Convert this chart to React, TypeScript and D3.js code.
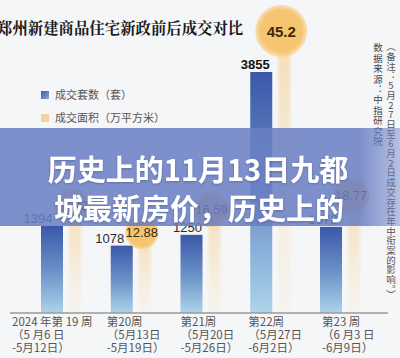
import React from 'react';
import * as d3 from 'd3';

const weeks = ['第19周', '第20周', '第21周', '第22周', '第23周'];
const deals = [1394, 1078, 1250, 3855, 1378];
const areas = [17.22, 12.88, 16.59, 45.2, 18.77];
const weekLine1 = ['2024 年第 19 周', '第20周', '第21周', '第22周', '第23 周'];
const weekLine2 = ['（5 月6 日', '（5月13日', '（5月20日', '（5月27日', '（6 月3 日'];
const weekLine3 = ['-5月12日）', '-5月19日）', '-5月26日）', '-6月2日）', '-6月9日）'];
const legendLabels = ['成交套数（套）', '成交面积（万平方米）'];
const titleText = '郑州新建商品住宅新政前后成交对比';
const bannerLines = ['历史上的11月13日九都', '城最新房价，历史上的'];
const noteText = '（备注：5月27日至6月2日成交存在年中衔案的影响。）';
const sourceText = '数据来源：中指研究院';

const W = 400;
const H = 358;
const FONT = '"Noto Sans CJK SC", "Noto Sans", sans-serif';

export default function App() {
  const x = d3.scalePoint<string>().domain(weeks).range([52, 331]);
  const baseline = 313;
  const y = d3.scaleLinear().domain([0, 3855]).range([baseline, 72]);
  const y2 = d3.scaleLinear().domain([0, 45.2]).range([baseline, 31]);
  const r = d3.scaleLinear().domain([0, 45.2]).range([13, 26]);
  const barW = 22;
  const bubbleDx = 20;
  const labelDx = [-14, -12, -4, -6, -8];
  const axisDx = [-40, -15, -11, -13, -9];

  const vertStyle: React.CSSProperties = {
    writingMode: 'vertical-rl' as any,
    textOrientation: 'upright' as any,
  };

  return (
    <svg
      width={W}
      height={H}
      viewBox={`0 0 ${W} ${H}`}
      style={{ position: 'fixed', left: 0, top: 0, display: 'block' }}
      fontFamily={FONT}
    >
      <defs>
        <linearGradient id="barGrad" x1="0" y1="0" x2="0" y2="1">
          <stop offset="0%" stopColor="#3a58a8" />
          <stop offset="55%" stopColor="#6f95ca" />
          <stop offset="100%" stopColor="#acd4ea" />
        </linearGradient>
        <linearGradient id="stripGrad" x1="0" y1="0" x2="0" y2="1">
          <stop offset="0%" stopColor="#f5c46e" stopOpacity="0.5" />
          <stop offset="100%" stopColor="#f8dcae" stopOpacity="0.12" />
        </linearGradient>
        <radialGradient id="bubbleGrad" cx="50%" cy="50%" r="50%">
          <stop offset="0%" stopColor="#f7c56c" />
          <stop offset="80%" stopColor="#f6c572" />
          <stop offset="100%" stopColor="#f8d596" stopOpacity="0.7" />
        </radialGradient>
        <linearGradient id="legBlue" x1="0" y1="0" x2="1" y2="1">
          <stop offset="0%" stopColor="#3f5ea8" />
          <stop offset="100%" stopColor="#8ea6cf" />
        </linearGradient>
        <linearGradient id="bannerGrad" x1="0" y1="0" x2="1" y2="0">
          <stop offset="0%" stopColor="#6a7fc4" stopOpacity="0.86" />
          <stop offset="90%" stopColor="#6a7fc4" stopOpacity="0.86" />
          <stop offset="100%" stopColor="#6a7fc4" stopOpacity="0.45" />
        </linearGradient>
        <filter id="soft" x="-30%" y="-30%" width="160%" height="160%">
          <feGaussianBlur stdDeviation="1.6" />
        </filter>
        <filter id="txtShadow" x="-10%" y="-20%" width="120%" height="140%">
          <feDropShadow dx="0" dy="1" stdDeviation="1" floodColor="#3b4a80" floodOpacity="0.5" />
        </filter>
      </defs>

      <rect x={0} y={0} width={W} height={H} fill="#f5f6f8" />

      {/* title */}
      <text x={-3} y={34} fontSize={15.4} fontWeight={700} fill="#1a1a1a" fontFamily='"Noto Serif CJK SC", "Noto Sans CJK SC", serif'>
        {titleText}
      </text>

      {/* legend */}
      <rect x={41} y={91} width={8} height={8} fill="url(#legBlue)" />
      <text x={55} y={99} fontSize={11} fill="#555">{legendLabels[0]}</text>
      <rect x={41} y={114} width={8} height={8} fill="#f4d39c" />
      <text x={55} y={122} fontSize={11} fill="#555">{legendLabels[1]}</text>

      {/* area strips */}
      {weeks.map((w, i) => {
        const cx = (x(w) as number) + bubbleDx + 3;
        const top = y2(areas[i]);
        return (
          <rect
            key={'s' + w}
            x={cx - 6}
            y={top}
            width={12}
            height={baseline - top}
            fill="url(#stripGrad)"
            filter="url(#soft)"
          />
        );
      })}

      {/* bars */}
      {weeks.map((w, i) => (
        <rect
          key={'b' + w}
          x={(x(w) as number) - barW / 2}
          y={y(deals[i])}
          width={barW}
          height={baseline - y(deals[i])}
          fill="url(#barGrad)"
        />
      ))}

      {/* bar labels */}
      {weeks.map((w, i) => (
        <text
          key={'l' + w}
          x={(x(w) as number) + labelDx[i]}
          y={y(deals[i]) - 3}
          textAnchor="middle"
          fontSize={13}
          fontWeight={i === 3 ? 700 : 500}
          fill={i === 3 ? '#111' : '#2a2a2a'}
          fontFamily="Arial, 'Liberation Sans', sans-serif"
        >
          {deals[i]}
        </text>
      ))}

      {/* bubbles */}
      {weeks.map((w, i) => {
        const cx = (x(w) as number) + bubbleDx;
        const cy = y2(areas[i]);
        return (
          <g key={'c' + w}>
            <circle cx={cx} cy={cy} r={r(areas[i])} fill="url(#bubbleGrad)" />
            <text
              x={cx}
              y={cy + (i === 3 ? 5.5 : 4.5)}
              textAnchor="middle"
              fontSize={i === 3 ? 15 : 13}
              fontWeight={i === 3 ? 700 : 500}
              fill="#3a2a12"
              fontFamily="Arial, 'Liberation Sans', sans-serif"
            >
              {String(areas[i])}
            </text>
          </g>
        );
      })}

      {/* axis */}
      <line x1={10} x2={388} y1={baseline} y2={baseline} stroke="#9a9a9a" strokeWidth={1.5} />
      {weeks.map((w, i) => {
        const lx = (x(w) as number) + axisDx[i];
        return (
          <g key={'a' + w} fontSize={11.5} fill="#555">
            <text x={lx} y={326}>{weekLine1[i]}</text>
            <text x={lx} y={339}>{weekLine2[i]}</text>
            <text x={lx} y={352}>{weekLine3[i]}</text>
          </g>
        );
      })}

      {/* vertical notes */}
      <text x={378} y={43} fontSize={9.5} fill="#444" style={vertStyle} letterSpacing={0.9}>
        {sourceText}
      </text>
      <text x={391} y={42} fontSize={9.5} fill="#555" style={vertStyle} letterSpacing={0.2}>
        {noteText}
      </text>

      {/* banner */}
      <rect x={0} y={128} width={W} height={98} fill="url(#bannerGrad)" />
      <g filter="url(#txtShadow)">
        <text x={198} y={181} textAnchor="middle" fontSize={29} fontWeight={700} fill="#ffffff">
          {bannerLines[0]}
        </text>
        <text x={199} y={220} textAnchor="middle" fontSize={29} fontWeight={700} fill="#ffffff">
          {bannerLines[1]}
        </text>
      </g>
    </svg>
  );
}
